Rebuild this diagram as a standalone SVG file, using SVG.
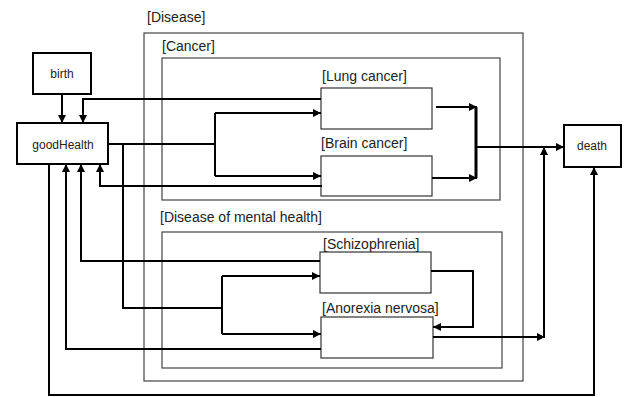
<svg xmlns="http://www.w3.org/2000/svg" width="626" height="397" viewBox="0 0 626 397">
<defs>
<marker id="ah" viewBox="0 0 10 10" refX="10" refY="5" markerWidth="9" markerHeight="8" markerUnits="userSpaceOnUse" orient="auto">
<path d="M0,0 L10,5 L0,10 z" fill="#000"/>
</marker>
</defs>
<style>
text{font-family:"Liberation Sans",Arial,sans-serif;fill:#222}
.lbl{font-size:14px}
.nm{font-size:12px;text-anchor:middle}
.cont{fill:none;stroke:#444;stroke-width:1.2}
.st{fill:#fff;stroke:#333;stroke-width:1.2}
.nd{fill:#fff;stroke:#000;stroke-width:2}
.cn{fill:none;stroke:#000;stroke-width:2}
.ar{marker-end:url(#ah)}
</style>
<rect width="626" height="397" fill="#fff"/>
<g id="disease">
<rect class="cont" x="144" y="33" width="379" height="348"/>
<text class="lbl" x="147" y="22">[Disease]</text>
</g>
<g id="cancer">
<rect class="cont" x="162" y="58" width="338" height="142"/>
<text class="lbl" x="162" y="51">[Cancer]</text>
</g>
<g id="mental">
<rect class="cont" x="162" y="232" width="340" height="136"/>
<text class="lbl" x="160" y="222">[Disease of mental health]</text>
</g>
<g id="lung">
<rect class="st" x="321" y="88" width="111" height="41"/>
<text class="lbl" x="322" y="81">[Lung cancer]</text>
</g>
<g id="brain">
<rect class="st" x="321" y="156" width="111" height="40"/>
<text class="lbl" x="321" y="148">[Brain cancer]</text>
</g>
<g id="schizo">
<rect class="st" x="320" y="252" width="111" height="41"/>
<text class="lbl" x="323" y="249">[Schizophrenia]</text>
</g>
<g id="anorexia">
<rect class="st" x="321" y="317" width="112" height="41"/>
<text class="lbl" x="322" y="313">[Anorexia nervosa]</text>
</g>
<g id="connectors">
<path class="cn ar" d="M62,94 V123"/>
<path class="cn ar" d="M321,99 H83 V123"/>
<path class="cn" d="M108,144 H215 M215,113 V176"/>
<path class="cn ar" d="M215,113 H321"/>
<path class="cn ar" d="M215,176 H321"/>
<path class="cn" d="M123,144 V308 H222 M222,276 V334"/>
<path class="cn ar" d="M222,276 H320"/>
<path class="cn ar" d="M222,334 H321"/>
<path class="cn ar" d="M322,186 H100 V164"/>
<path class="cn ar" d="M436,107 H477"/>
<path class="cn ar" d="M432,178 H477"/>
<path class="cn" d="M476,107 V178" style="stroke-width:3"/>
<path class="cn ar" d="M476,147 H564"/>
<path class="cn ar" d="M433,337 H545"/>
<path class="cn ar" d="M544,337 V147"/>
<path class="cn ar" d="M431,271 H473 V327 H433"/>
<path class="cn ar" d="M320,261 H81 V164"/>
<path class="cn ar" d="M321,349 H66 V164"/>
<path class="cn ar" d="M49,164 V395 H594 V167"/>
</g>
<g id="birth">
<rect class="nd" x="33" y="53" width="58" height="41"/>
<text class="nm" x="62" y="78">birth</text>
</g>
<g id="goodHealth">
<rect class="nd" x="17" y="123" width="91" height="41"/>
<text class="nm" x="63" y="149">goodHealth</text>
</g>
<g id="death">
<rect class="nd" x="564" y="125" width="57" height="42"/>
<text class="nm" x="592" y="150">death</text>
</g>
</svg>
